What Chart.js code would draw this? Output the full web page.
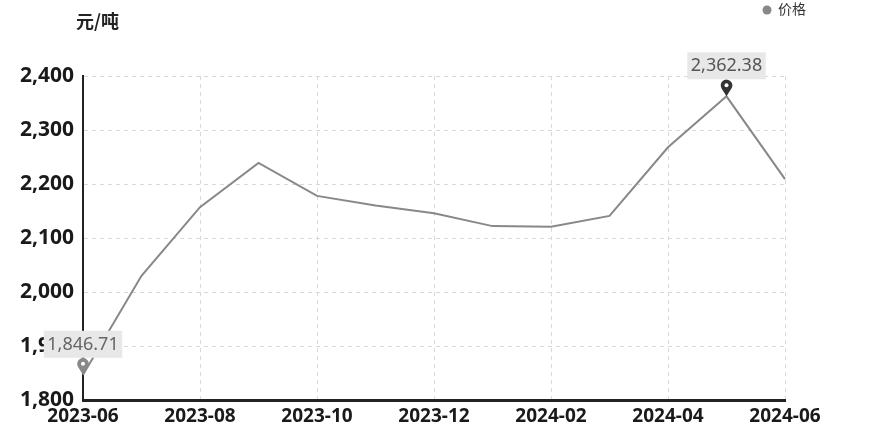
<!DOCTYPE html>
<html>
<head>
<meta charset="utf-8">
<script src="https://cdn.jsdelivr.net/npm/chart.js@4.4.1/dist/chart.umd.min.js"></script>
<style>
  html, body { margin: 0; padding: 0; background: #fff; }
  #wrap { width: 874px; height: 446px; }
</style>
</head>
<body>
<div id="wrap"><canvas id="priceChart" width="874" height="446"></canvas></div>
<script>
// 数据
const months = ['2023-06', '2023-07', '2023-08', '2023-09', '2023-10', '2023-11', '2023-12',
                '2024-01', '2024-02', '2024-03', '2024-04', '2024-05', '2024-06'];
const prices = [1846.71, 2030, 2157, 2239, 2178, 2160, 2146, 2122, 2121, 2141, 2268, 2362.38, 2209];
const yTicks = [1800, 1900, 2000, 2100, 2200, 2300, 2400];
const unitLabel = '元/吨';
const seriesName = '价格';

const fmt = v => v.toLocaleString('en-US', { minimumFractionDigits: 2, maximumFractionDigits: 2 });

// 标题、图例、最大/最小值标记
const extrasPlugin = {
    id: 'extras',
    afterDraw(chart) {
        const ctx = chart.ctx;
        const xs = chart.scales.x, ys = chart.scales.y;
        ctx.save();

        ctx.fillStyle = '#222';
        ctx.font = 'bold 18px "Noto Sans CJK SC"';
        ctx.textAlign = 'left';
        ctx.textBaseline = 'middle';
        ctx.fillText(unitLabel, 76, 21);

        ctx.fillStyle = '#888';
        ctx.beginPath();
        ctx.arc(767, 10, 4.5, 0, Math.PI * 2);
        ctx.fill();
        ctx.fillStyle = '#333';
        ctx.font = '14px "Noto Sans CJK SC"';
        ctx.fillText(seriesName, 778, 9);

        const maxI = prices.indexOf(Math.max(...prices));
        const minI = prices.indexOf(Math.min(...prices));
        const marks = [
            { i: maxI, pin: '#333', text: '#555' },
            { i: minI, pin: '#888', text: '#666' }
        ];
        marks.forEach(m => {
            const px = xs.getPixelForValue(m.i);
            const py = ys.getPixelForValue(prices[m.i]);
            // 针形标记
            const r = 5.8, cy = py - 11;
            ctx.fillStyle = m.pin;
            ctx.beginPath();
            ctx.moveTo(px, py);
            ctx.lineTo(px - r * 0.85, cy + r * 0.55);
            ctx.arc(px, cy, r, Math.PI * 0.82, Math.PI * 0.18);
            ctx.closePath();
            ctx.fill();
            ctx.fillStyle = '#fff';
            ctx.beginPath();
            ctx.arc(px, cy, 2, 0, Math.PI * 2);
            ctx.fill();
            // 标签
            const label = fmt(prices[m.i]);
            ctx.font = '18px "Noto Sans"';
            const w = ctx.measureText(label).width + 7;
            const bottom = py - 17;
            ctx.fillStyle = '#e8e8e8';
            ctx.fillRect(px - w / 2, bottom - 27, w, 27);
            ctx.fillStyle = m.text;
            ctx.textAlign = 'center';
            ctx.textBaseline = 'middle';
            ctx.fillText(label, px, bottom - 13);
        });
        ctx.restore();
    }
};

new Chart(document.getElementById('priceChart'), {
    type: 'line',
    data: {
        labels: months,
        datasets: [{
            label: seriesName,
            data: prices,
            borderColor: '#888',
            borderWidth: 2,
            pointRadius: 0,
            tension: 0,
            fill: false
        }]
    },
    options: {
        responsive: false,
        animation: false,
        layout: { padding: { top: 76, right: 89, left: 0, bottom: 0 } },
        plugins: {
            legend: { display: false },
            tooltip: { enabled: false }
        },
        scales: {
            x: {
                afterFit: s => { s.height = 46; },
                grid: {
                    drawTicks: false,
                    color: c => (c.index % 2 === 0 && c.index > 0) ? '#d9d9d9' : 'rgba(0,0,0,0)'
                },
                border: { display: true, color: '#222', width: 3, dash: [4, 4] },
                ticks: {
                    autoSkip: false,
                    maxRotation: 0,
                    padding: 5,
                    color: '#1a1a1a',
                    font: { family: 'Noto Sans', size: 19, weight: 'bold' },
                    callback: (v, i) => (i % 2 === 0 ? months[i] : '')
                }
            },
            y: {
                min: yTicks[0],
                max: yTicks[yTicks.length - 1],
                afterFit: s => { s.width = 83; },
                afterBuildTicks: s => { s.ticks = yTicks.map(v => ({ value: v })); },
                grid: {
                    drawTicks: false,
                    color: '#d9d9d9'
                },
                border: { display: true, color: '#222', width: 2, dash: [4, 4] },
                ticks: {
                    padding: 9,
                    color: '#1a1a1a',
                    font: { family: 'Noto Sans', size: 21, weight: 'bold' },
                    callback: v => v.toLocaleString('en-US')
                }
            }
        }
    },
    plugins: [extrasPlugin]
});
</script>
</body>
</html>
